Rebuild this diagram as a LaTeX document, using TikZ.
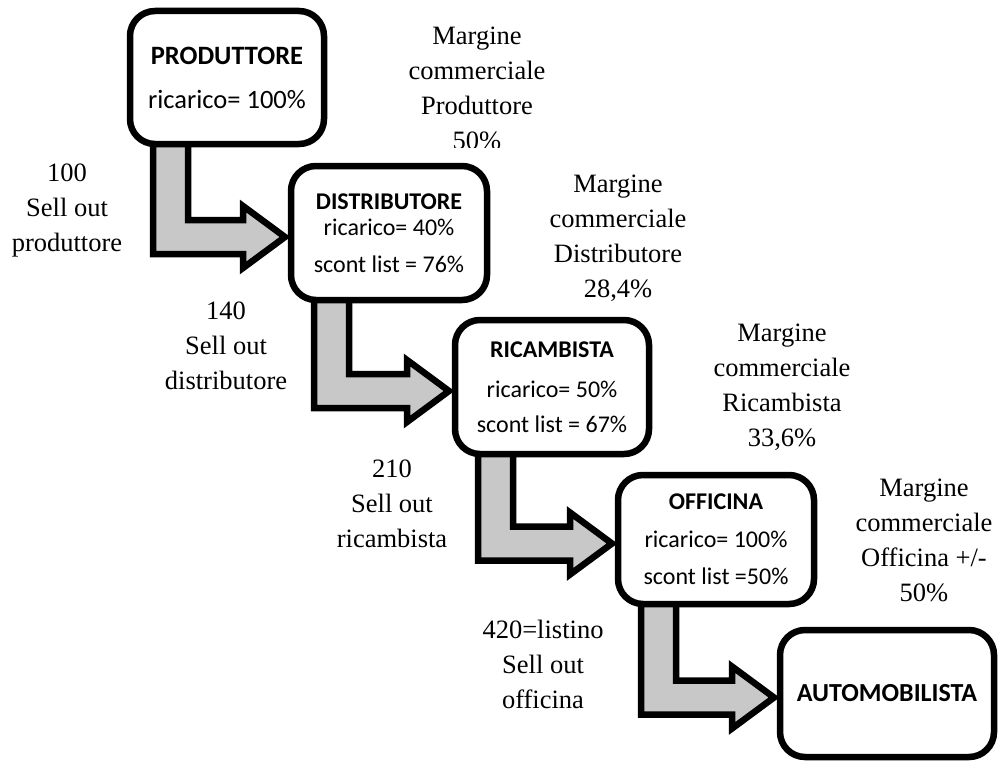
\documentclass[tikz,border=0pt]{standalone}
\usepackage{fontspec}
\setmainfont{Liberation Serif}
\newfontfamily\boxfont{Carlito}
\usetikzlibrary{calc,backgrounds}
\definecolor{arrowfill}{RGB}{200,200,200}
\tikzset{
  stage/.style={draw=black, line width=6.5pt, fill=white, rounded corners=25pt,
    inner sep=0pt, outer sep=0pt, align=center},
  note/.style={align=center, inner sep=0pt, font=\fontsize{26.5}{35}\selectfont},
  flow/.style={draw=black, fill=arrowfill, line width=6.5pt, line join=miter},
}
% bent block arrow: down out of box #1, then right into the west side of box #2
\newcommand\flowarrow[2]{%
  \draw[flow] let \p1=(#1.south west), \p2=($(#2.west)+(-6,4)$) in
    (\x1+23pt,\y1+4pt) -- (\x1+23pt,\y2-17pt) -- (\x2-42pt,\y2-17pt)
    -- (\x2-42pt,\y2-31pt) -- (\p2) -- (\x2-42pt,\y2+31pt)
    -- (\x2-42pt,\y2+17pt) -- (\x1+58pt,\y2+17pt) -- (\x1+58pt,\y1+4pt) -- cycle;}
\begin{document}
\begin{tikzpicture}[x=1pt,y=-1pt]
\useasboundingbox (0,0) rectangle (1000,765);

% stages of the supply chain
\node[stage, minimum width=194pt, minimum height=133pt,
      font=\boxfont\fontsize{26.5}{44}\selectfont] (prod) at (227,77.5)
  {\textbf{PRODUTTORE}\\ricarico= 100\%};
\node[stage, minimum width=196pt, minimum height=134pt,
      font=\boxfont\fontsize{24}{26}\selectfont] (dist) at (389,233)
  {\textbf{DISTRIBUTORE}\\ricarico= 40\%\\[11pt]scont list = 76\%};
\node[stage, minimum width=194pt, minimum height=134pt,
      font=\boxfont\fontsize{24}{35}\selectfont] (ric) at (552,387)
  {\textbf{RICAMBISTA}\\[5pt]ricarico= 50\%\\scont list = 67\%};
\node[stage, minimum width=196pt, minimum height=129pt,
      font=\boxfont\fontsize{24}{37.5}\selectfont] (off) at (716,539.5)
  {\textbf{OFFICINA}\\ricarico= 100\%\\scont list =50\%};
\node[stage, minimum width=214pt, minimum height=127pt,
      font=\boxfont\fontsize{26}{30}\selectfont] (auto) at (887,693.5)
  {\textbf{AUTOMOBILISTA}};

% flow arrows between stages
\begin{scope}[on background layer]
  \flowarrow{prod}{dist}
  \flowarrow{dist}{ric}
  \flowarrow{ric}{off}
  \flowarrow{off}{auto}
\end{scope}

% sell-out prices
\node[note] (so1) at (67,211)  {100\\Sell out\\produttore};
\node[note] (so2) at (226,346) {140\\Sell out\\distributore};
\node[note] (so3) at (392,504) {210\\Sell out\\ricambista};
\node[note] (so4) at (543,664) {420=listino\\Sell out\\officina};

% commercial margins
\begin{scope}
  \clip (400,0) rectangle (560,147);
  \node[note] (mc1) at (477,88) {Margine\\commerciale\\Produttore\\50\%};
\end{scope}
\node[note] (mc2) at (618,238) {Margine\\commerciale\\Distributore\\28,4\%};
\node[note] (mc3) at (782,387) {Margine\\commerciale\\Ricambista\\33,6\%};
\node[note] (mc4) at (924,540) {Margine\\commerciale\\Officina +/-\\50\%};
\end{tikzpicture}
\end{document}
